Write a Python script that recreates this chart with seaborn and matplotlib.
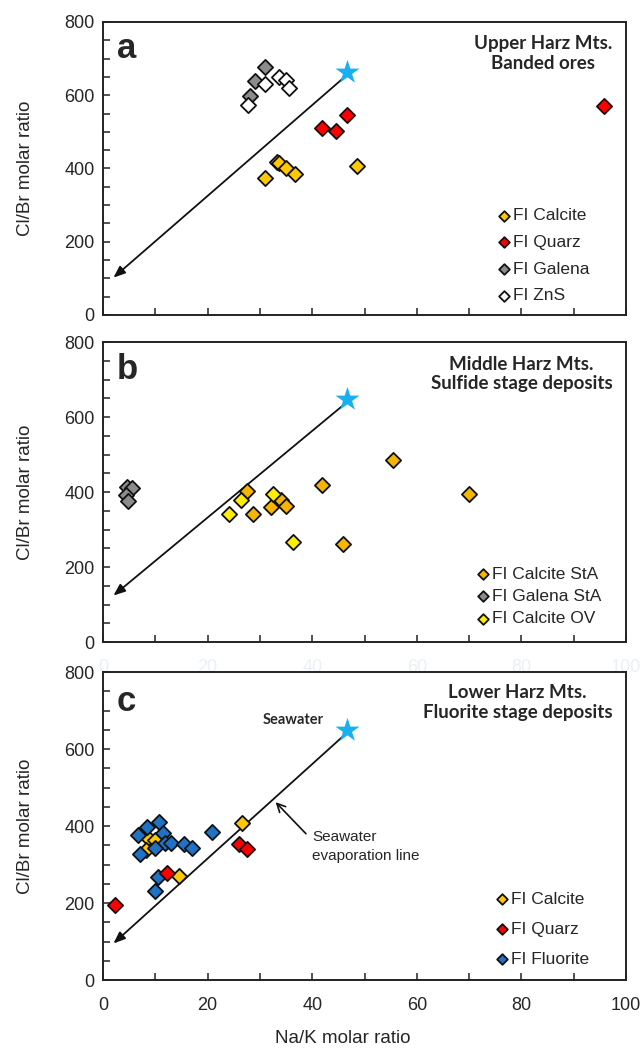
import matplotlib
matplotlib.use('Agg')
import matplotlib.pyplot as plt
from matplotlib.ticker import MultipleLocator
import seaborn as sns

sns.set_style('white')
plt.rcParams['font.family'] = ['Liberation Sans', 'DejaVu Sans']

# =============================================
# Data (Na/K molar ratio, Cl/Br molar ratio)

# panel a: Upper Harz Mts., banded ores
a_calcite_x = [30.9, 33.2, 33.6, 34.9, 36.7, 48.6]
a_calcite_y = [375, 418, 414, 402, 384, 406]
a_quarz_x = [41.8, 44.5, 46.7, 95.8]
a_quarz_y = [511, 501, 545, 570]
a_galena_x = [28.1, 29.1, 30.9]
a_galena_y = [598, 638, 676]
a_zns_x = [27.8, 30.9, 33.6, 34.9, 35.5]
a_zns_y = [574, 630, 649, 642, 620]

# panel b: Middle Harz Mts., sulfide stage deposits
b_calcite_sta_x = [27.6, 28.6, 32.2, 34.0, 35.0, 41.9, 45.9, 55.4, 69.9]
b_calcite_sta_y = [403, 342, 359, 380, 363, 418, 262, 486, 394]
b_galena_sta_x = [4.6, 5.6, 4.4, 4.7]
b_galena_sta_y = [414, 411, 392, 377]
b_calcite_ov_x = [24.0, 26.4, 32.5, 36.3]
b_calcite_ov_y = [342, 380, 394, 266]

# panel c: Lower Harz Mts., fluorite stage deposits
c_calcite_x = [26.6, 14.5, 8.6, 9.9, 8.2]
c_calcite_y = [407, 271, 368, 363, 337]
c_quarz_x = [2.2, 12.2, 26.0, 27.6]
c_quarz_y = [194, 277, 354, 340]
c_fluorite_x = [10.7, 8.4, 6.7, 11.5, 11.8, 13.0, 9.9, 7.1, 15.5, 17.1, 20.9, 10.5, 9.9]
c_fluorite_y = [411, 397, 378, 381, 357, 357, 344, 327, 354, 344, 384, 268, 230]

# seawater point and end of the evaporation line, per panel
seawater_x = [46.6, 46.6, 46.6]
seawater_y = [663, 648, 650]
evap_end_x = [2.0, 2.0, 2.0]
evap_end_y = [102, 124, 95]

panel_letters = ['a', 'b', 'c']
panel_titles = ['Upper Harz Mts.\nBanded ores',
                'Middle Harz Mts.\nSulfide stage deposits',
                'Lower Harz Mts.\nFluorite stage deposits']

# =============================================
# colours
col_calcite = '#FFC800'
col_calcite_sta = '#F7B500'
col_calcite_ov = '#FFEE00'
col_quarz = '#FF0000'
col_galena = '#8C8C8C'
col_zns = '#FFFFFF'
col_fluorite = '#1F72C4'
col_star = '#1AAFEF'

series = [
    [('FI Calcite', a_calcite_x, a_calcite_y, col_calcite, 3),
     ('FI Quarz', a_quarz_x, a_quarz_y, col_quarz, 3),
     ('FI Galena', a_galena_x, a_galena_y, col_galena, 3),
     ('FI ZnS', a_zns_x, a_zns_y, col_zns, 3.1)],
    [('FI Calcite StA', b_calcite_sta_x, b_calcite_sta_y, col_calcite_sta, 3),
     ('FI Galena StA', b_galena_sta_x, b_galena_sta_y, col_galena, 3),
     ('FI Calcite OV', b_calcite_ov_x, b_calcite_ov_y, col_calcite_ov, 3.1)],
    [('FI Calcite', c_calcite_x, c_calcite_y, col_calcite, 3),
     ('FI Quarz', c_quarz_x, c_quarz_y, col_quarz, 3.4),
     ('FI Fluorite', c_fluorite_x, c_fluorite_y, col_fluorite, 3.2)],
]

# legend placement (axes fraction) and row spacing
legend_anchor = [(0.756, 0.040), (0.716, 0.052), (0.752, 0.043)]
legend_spacing = [0.66, 0.42, 0.86]

# title / letter vertical position (axes fraction)
title_y = [0.955, 0.955, 0.962]
letter_y = [0.965, 0.962, 0.958]

# =============================================
fig = plt.figure(figsize=(6.43, 10.52), dpi=100)
ax_a = fig.add_axes([0.1602, 0.7006, 0.8134, 0.2785])
ax_b = fig.add_axes([0.1602, 0.3897, 0.8134, 0.2852])
ax_c = fig.add_axes([0.1602, 0.0684, 0.8134, 0.2928])
axes = [ax_a, ax_b, ax_c]

for i, ax in enumerate(axes):
    # evaporation line from seawater
    ax.annotate('', xy=(evap_end_x[i], evap_end_y[i]), xytext=(seawater_x[i] - 0.8, seawater_y[i] - 18),
                arrowprops=dict(arrowstyle='-|>,head_length=0.7,head_width=0.28', lw=1.3,
                                color='#111111', shrinkA=0, shrinkB=0), zorder=2)

    for label, xs, ys, col, z in series[i]:
        sns.scatterplot(x=xs, y=ys, ax=ax, marker='D', s=60, color=col, edgecolor='#111111',
                        linewidth=1.3, label=label, zorder=z)

    sns.scatterplot(x=[seawater_x[i]], y=[seawater_y[i]], ax=ax, marker='*', s=330, color=col_star,
                    linewidth=0, zorder=6)

    # aesthetics
    ax.set(xlim=[0, 100], ylim=[0, 800])
    ax.xaxis.set_major_locator(MultipleLocator(20))
    ax.xaxis.set_minor_locator(MultipleLocator(10))
    ax.yaxis.set_major_locator(MultipleLocator(200))
    ax.yaxis.set_minor_locator(MultipleLocator(50))
    ax.tick_params(which='both', direction='in', length=5, width=1.1, color='#222222',
                   bottom=True, left=True, top=False, right=False)
    ax.tick_params(axis='y', labelsize=13, pad=6)
    ax.tick_params(axis='x', labelsize=13, pad=12)
    for sp in ax.spines.values():
        sp.set_linewidth(1.4)
        sp.set_color('#222222')

    ax.set_ylabel('Cl/Br molar ratio', fontsize=13.5)
    ax.yaxis.set_label_coords(-0.132, 0.5)

    ax.text(0.026, letter_y[i], panel_letters[i], transform=ax.transAxes, fontsize=25,
            fontweight='bold', ha='left', va='top')
    ax.text(0.974, title_y[i], panel_titles[i], transform=ax.transAxes, fontsize=13.5,
            fontweight='bold', family=['Lato', 'DejaVu Sans'], ha='right', va='top',
            multialignment='center', linespacing=1.2)

    leg = ax.legend(loc='lower left', bbox_to_anchor=legend_anchor[i], frameon=False, borderpad=0,
                    borderaxespad=0, handlelength=0.6, handletextpad=0.25, markerscale=0.7,
                    labelspacing=legend_spacing[i], fontsize=12.5)

# x tick labels: none on a, ghosted on b, normal on c
ax_a.tick_params(axis='x', labelbottom=False)
ax_b.tick_params(axis='x', labelcolor='#eaf0f5')
ax_c.set_xlabel('Na/K molar ratio', fontsize=13.5)
ax_c.xaxis.set_label_coords(0.459, -0.162)

# seawater annotations on panel c
ax_c.text(36.4, 676, 'Seawater', fontsize=10.5, fontweight='bold', family=['Lato', 'DejaVu Sans'],
          ha='center', va='center')
ax_c.text(40.0, 390, 'Seawater\nevaporation line', fontsize=11, ha='left', va='top',
          linespacing=1.45)
ax_c.annotate('', xy=(33.0, 462), xytext=(38.8, 380),
              arrowprops=dict(arrowstyle='->,head_length=0.6,head_width=0.3', lw=1.2,
                              color='#111111', shrinkA=0, shrinkB=0))

fig.savefig('out.png', dpi=100)
